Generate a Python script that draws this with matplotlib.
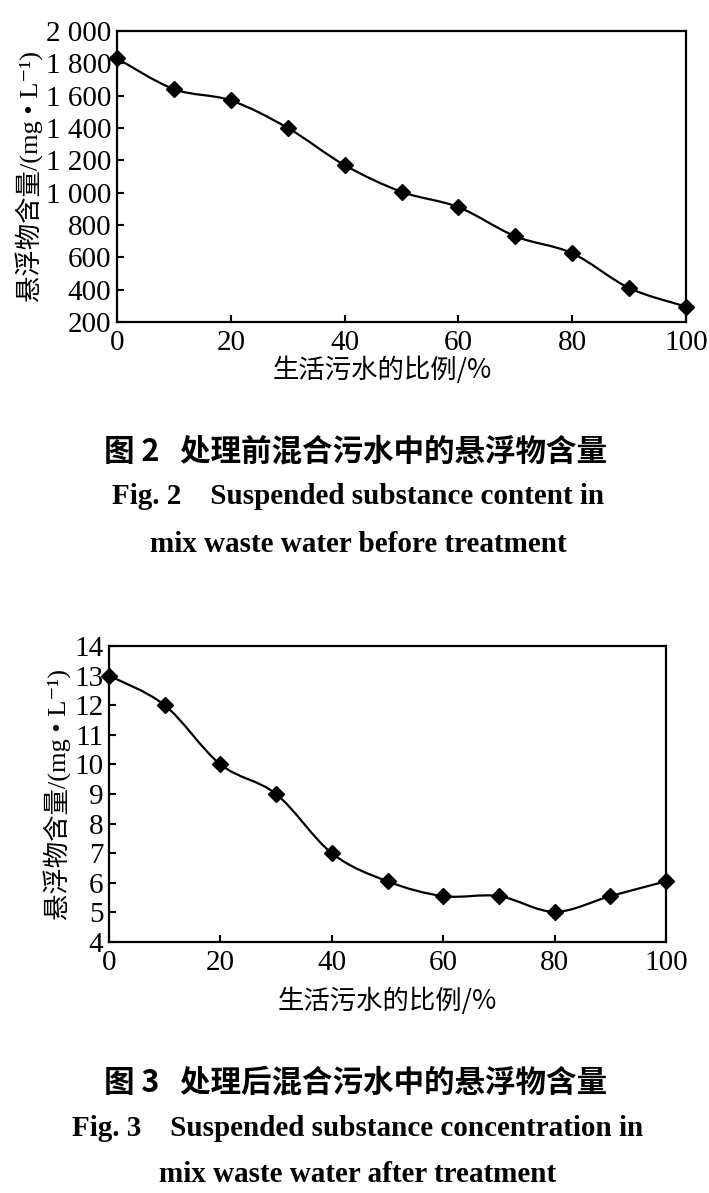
"""Two stacked line charts: suspended substance before / after treatment."""
import matplotlib
matplotlib.use('Agg')
import matplotlib.pyplot as plt
from matplotlib.path import Path
from matplotlib.patches import PathPatch

plt.rcParams['font.family'] = ['Liberation Serif', 'Noto Sans CJK SC',
                               'DejaVu Sans']

# data
ratio = [0, 10, 20, 30, 40, 50, 60, 70, 80, 90, 100]
ss_before = [1830, 1640, 1570, 1400, 1170, 1005, 910, 730, 625, 410, 295]
ss_after = [13.0, 12.0, 10.0, 9.0, 7.0, 6.05, 5.55, 5.55, 5.02, 5.55, 6.05]

before_ticks = [200, 400, 600, 800, 1000, 1200, 1400, 1600, 1800, 2000]
before_ticklabels = ['200', '400', '600', '800', '1 000', '1 200', '1 400',
                     '1 600', '1 800', '2 000']
after_ticks = [4, 5, 6, 7, 8, 9, 10, 11, 12, 13, 14]
x_ticks = [0, 20, 40, 60, 80, 100]

xlabel = '生活污水的比例/%'
ylabel = '悬浮物含量/(mg • L⁻¹)'
cap2 = ['图 2   处理前混合污水中的悬浮物含量',
        'Fig. 2    Suspended substance content in',
        'mix waste water before treatment']
cap3 = ['图 3   处理后混合污水中的悬浮物含量',
        'Fig. 3    Suspended substance concentration in',
        'mix waste water after treatment']

CJK = ['Noto Sans CJK SC', 'DejaVu Sans']


def smooth_path(x, y):
    # Catmull-Rom through the points, drawn as cubic Bezier segments
    verts = [(x[0], y[0])]
    codes = [Path.MOVETO]
    n = len(x)
    for i in range(n - 1):
        x0, y0 = (x[i - 1], y[i - 1]) if i > 0 else (x[i], y[i])
        x3, y3 = (x[i + 2], y[i + 2]) if i + 2 < n else (x[i + 1], y[i + 1])
        c1 = (x[i] + (x[i + 1] - x0) / 6, y[i] + (y[i + 1] - y0) / 6)
        c2 = (x[i + 1] - (x3 - x[i]) / 6, y[i + 1] - (y3 - y[i]) / 6)
        verts += [c1, c2, (x[i + 1], y[i + 1])]
        codes += [Path.CURVE4] * 3
    return Path(verts, codes)


def draw(ax, y, yticks, yticklabels, ylim, xlabelpad):
    ax.add_patch(PathPatch(smooth_path(ratio, y), fill=False,
                           lw=1.6, color='black', clip_on=False))
    ax.plot(ratio, y, ls='none', marker='D', ms=8.5, color='black',
            clip_on=False, zorder=3)
    ax.set_xlim(0, 100)
    ax.set_ylim(*ylim)
    ax.set_xticks(x_ticks)
    ax.set_yticks(yticks)
    ax.set_yticklabels(yticklabels)
    ax.tick_params(direction='in', length=5, width=1.5, labelsize=21,
                   top=False, right=False, pad=4)
    ax.tick_params(axis='x', pad=6)
    for s in ax.spines.values():
        s.set_linewidth(1.6)
    ax.set_xlabel(xlabel, family=CJK, fontsize=19, labelpad=xlabelpad)
    ax.set_ylabel(ylabel, fontsize=19, labelpad=2)


fig = plt.figure(figsize=(7.09, 11.93), dpi=100)

ax1 = fig.add_axes([0.165, 0.7301, 0.8026, 0.244])
draw(ax1, ss_before, before_ticks, before_ticklabels, (200, 2000), 0)
ax1.xaxis.label.set_x(0.466)

ax2 = fig.add_axes([0.1537, 0.2104, 0.7857, 0.2481])
draw(ax2, ss_after, after_ticks, [str(t) for t in after_ticks], (4, 14), 8)

# figure captions
for lines, ys in [(cap2, [451, 497, 545]), (cap3, [1082, 1129, 1175])]:
    fig.text(0.502, 1 - ys[0] / 1193, lines[0], family=CJK, weight='bold',
             fontsize=22, ha='center', va='center')
    for t, yy in zip(lines[1:], ys[1:]):
        fig.text(0.505, 1 - yy / 1193, t, weight='bold', fontsize=21,
                 ha='center', va='center')

fig.savefig('out.png', dpi=100)
